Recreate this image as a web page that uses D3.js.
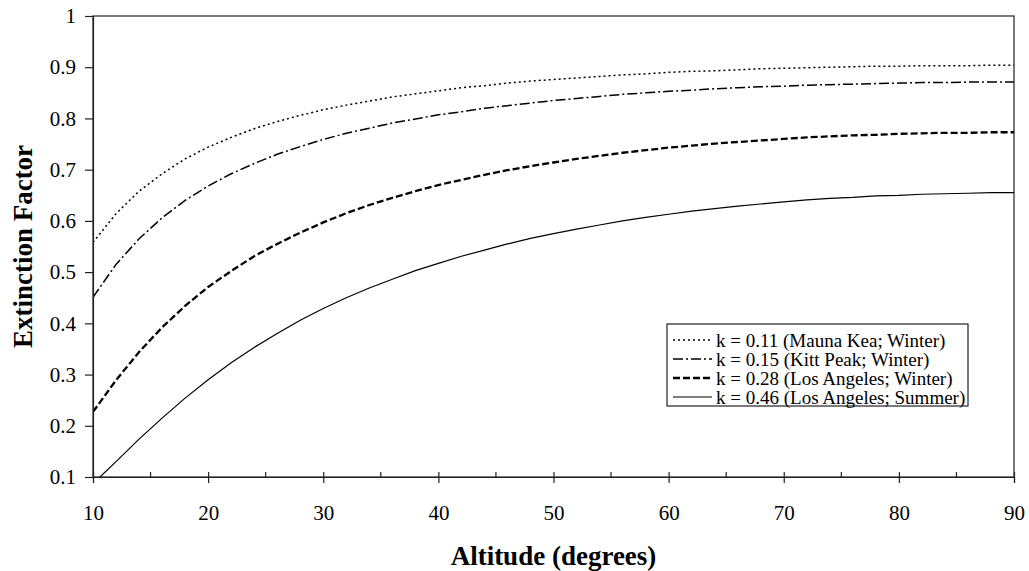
<!DOCTYPE html>
<html>
<head>
<meta charset="utf-8">
<script src="https://cdn.jsdelivr.net/npm/d3@7"></script>
<style>
  html, body { margin: 0; padding: 0; background: #fff; }
  svg text { font-family: "Liberation Serif", "Times New Roman", serif; fill: #000; }
</style>
</head>
<body>
<svg id="chart" width="1029" height="571"></svg>
<script>
// Altitude (degrees)
const altitudes = [10,12,14,16,18,20,22,24,26,28,30,32,34,36,38,40,42,44,46,48,50,
                   52,54,56,58,60,62,64,66,68,70,72,74,76,78,80,82,84,86,88,90];

const k011 = [0.558,0.614,0.658,0.692,0.721,0.744,0.763,0.780,0.794,0.806,0.817,0.826,0.834,0.842,0.848,0.854,0.860,0.864,0.869,0.873,0.876,
              0.879,0.882,0.885,0.887,0.890,0.892,0.893,0.895,0.897,0.898,0.899,0.900,0.901,0.902,0.902,0.903,0.903,0.903,0.904,0.904];
const k015 = [0.451,0.515,0.565,0.606,0.640,0.668,0.692,0.712,0.730,0.745,0.759,0.771,0.781,0.791,0.799,0.807,0.813,0.820,0.825,0.830,0.835,
              0.839,0.843,0.847,0.850,0.853,0.855,0.858,0.860,0.862,0.863,0.865,0.866,0.867,0.868,0.869,0.870,0.870,0.871,0.871,0.871];
const k028 = [0.227,0.289,0.344,0.392,0.434,0.471,0.502,0.531,0.555,0.577,0.597,0.615,0.631,0.645,0.658,0.670,0.680,0.690,0.699,0.707,0.714,
              0.721,0.727,0.733,0.738,0.743,0.747,0.751,0.754,0.757,0.760,0.763,0.765,0.767,0.768,0.770,0.771,0.772,0.772,0.773,0.773];
const k046 = [0.087,0.130,0.174,0.215,0.254,0.290,0.323,0.353,0.380,0.406,0.429,0.450,0.469,0.486,0.503,0.517,0.531,0.543,0.555,0.566,0.575,
              0.584,0.592,0.600,0.607,0.613,0.619,0.624,0.629,0.633,0.637,0.641,0.644,0.646,0.649,0.650,0.652,0.653,0.654,0.655,0.655];

const seriesNames = ["k = 0.11 (Mauna Kea; Winter)", "k = 0.15 (Kitt Peak; Winter)",
                     "k = 0.28 (Los Angeles; Winter)", "k = 0.46 (Los Angeles; Summer)"];
const xTicks = [10,20,30,40,50,60,70,80,90];
const xMinorTicks = [15,25,35,45,55,65,75,85];
const yTicks = [0.1,0.2,0.3,0.4,0.5,0.6,0.7,0.8,0.9,1];
const xTitle = "Altitude (degrees)";
const yTitle = "Extinction Factor";

const series = [
  {name: seriesNames[0], values: k011, dash: "2,3", width: 1.5},
  {name: seriesNames[1], values: k015, dash: "10,3,2,3", width: 1.5},
  {name: seriesNames[2], values: k028, dash: "7,3", width: 2.3},
  {name: seriesNames[3], values: k046, dash: null, width: 1.2}
];

const svg = d3.select("#chart");
const margin = {left: 93, top: 16, right: 15, bottom: 94};
const W = 1029, H = 571;
const iw = W - margin.left - margin.right;
const ih = H - margin.top - margin.bottom;

const x = d3.scaleLinear().domain([10, 90]).range([0, iw]);
const y = d3.scaleLinear().domain([0.1, 1]).range([ih, 0]);

const g = svg.append("g").attr("transform", `translate(${margin.left},${margin.top})`);

svg.append("defs").append("clipPath").attr("id", "plotclip")
  .append("rect").attr("x", 0).attr("y", 0).attr("width", iw).attr("height", ih);

// Plot border
g.append("rect").attr("x", 0).attr("y", 0).attr("width", iw).attr("height", ih)
  .attr("fill", "none").attr("stroke", "#222").attr("stroke-width", 1.2);

// Lines
const line = d3.line().x((d, i) => x(altitudes[i])).y(d => y(d));
const lg = g.append("g").attr("clip-path", "url(#plotclip)");
series.forEach(s => {
  lg.append("path").datum(s.values)
    .attr("d", line)
    .attr("fill", "none")
    .attr("stroke", "#000")
    .attr("stroke-width", s.width)
    .attr("stroke-dasharray", s.dash);
});

// Y axis
const yAxis = d3.axisLeft(y).tickValues(yTicks).tickSize(8).tickPadding(9)
  .tickFormat(d => d3.format("")(+d.toFixed(1)));
const yg = g.append("g").call(yAxis);
yg.attr("font-family", null);
yg.select(".domain").attr("stroke", "#222").attr("stroke-width", 1.2);
yg.selectAll(".tick line").attr("stroke", "#222").attr("stroke-width", 1.2);
yg.selectAll(".tick text").attr("font-size", 21);

// X axis: major ticks crossing
const xg = g.append("g").attr("transform", `translate(0,${ih})`);
const xAxis = d3.axisBottom(x).tickValues(xTicks).tickSize(6).tickPadding(22).tickFormat(d3.format("d"));
xg.call(xAxis);
xg.attr("font-family", null);
xg.select(".domain").attr("stroke", "#222").attr("stroke-width", 1.2);
xg.selectAll(".tick line").attr("stroke", "#222").attr("stroke-width", 1.2).attr("y1", -5).attr("y2", 6);
xg.selectAll(".tick text").attr("font-size", 21);
// minor ticks
xg.selectAll(".minor").data(xMinorTicks).enter().append("line")
  .attr("class", "minor")
  .attr("x1", d => x(d)).attr("x2", d => x(d))
  .attr("y1", -5).attr("y2", 0)
  .attr("stroke", "#222").attr("stroke-width", 1.2);

// Axis titles
svg.append("text")
  .attr("x", margin.left + iw / 2).attr("y", 565)
  .attr("text-anchor", "middle")
  .attr("font-size", 27).attr("font-weight", "bold")
  .text(xTitle);

svg.append("text")
  .attr("transform", `translate(32,${margin.top + ih / 2}) rotate(-90)`)
  .attr("text-anchor", "middle")
  .attr("font-size", 27).attr("font-weight", "bold")
  .text(yTitle);

// Legend
const legend = svg.append("g").attr("transform", "translate(667,324)");
legend.append("rect").attr("x", 0).attr("y", 0).attr("width", 301).attr("height", 82)
  .attr("fill", "#fff").attr("stroke", "#222").attr("stroke-width", 1.2);
series.forEach((s, i) => {
  const yy = 16 + i * 19;
  legend.append("line").attr("x1", 6).attr("x2", 45).attr("y1", yy).attr("y2", yy)
    .attr("stroke", "#000").attr("stroke-width", s.width).attr("stroke-dasharray", s.dash);
  legend.append("text").attr("x", 49).attr("y", yy).attr("dy", "0.35em")
    .attr("font-size", 19).text(s.name);
});
</script>
</body>
</html>
